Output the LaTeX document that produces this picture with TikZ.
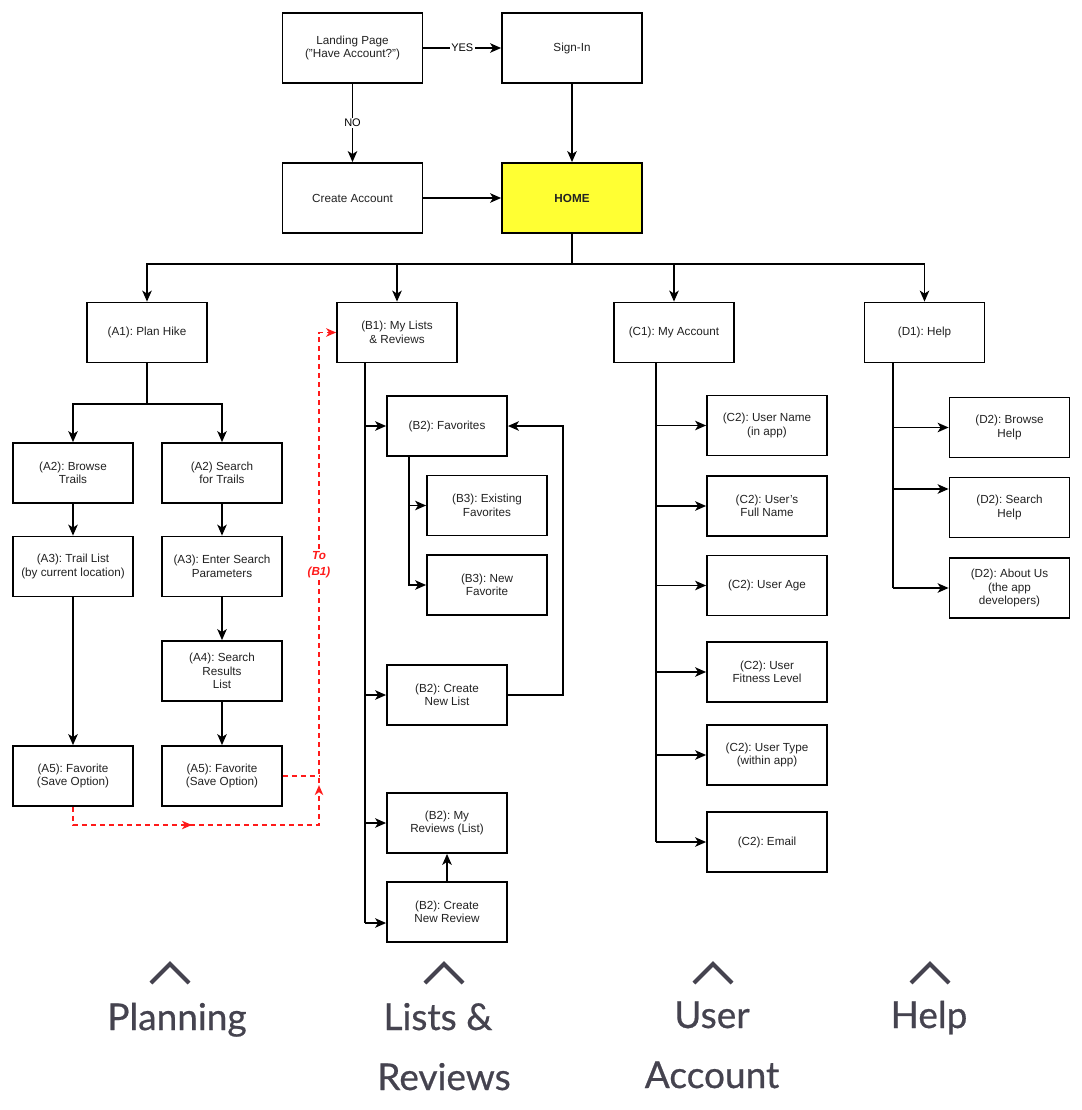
\documentclass[tikz,border=0pt]{standalone}
\usepackage{fontspec}
\setmainfont{Liberation Sans}
\newfontfamily\footfont[FakeBold=0.6]{Lato}
\usetikzlibrary{arrows.meta}
\usetikzlibrary{decorations.markings}
\pgfdeclarelayer{edgelayer}
\pgfdeclarelayer{nodelayer}
\pgfsetlayers{edgelayer,nodelayer,main}
\definecolor{homeyellow}{HTML}{FFFF33}
\definecolor{flowred}{HTML}{FF1A1A}
\definecolor{footgrey}{HTML}{45434F}
\definecolor{boxtext}{HTML}{222222}
\frenchspacing
\tikzstyle{none}=[inner sep=0pt]
\tikzstyle{screen}=[rectangle,draw=black,line width=1.8pt,fill=white,minimum width=120pt,minimum height=60pt,align=center,text=boxtext,font=\fontsize{11.7}{13.5}\selectfont]
\tikzstyle{wide screen}=[style=screen,minimum width=140pt,minimum height=70pt]
\tikzstyle{home}=[style=wide screen,fill=homeyellow,font=\fontsize{11.7}{13.5}\selectfont\bfseries]
\tikzstyle{link}=[-{Stealth[length=11pt,width=9.5pt,inset=3pt]},draw=black,line width=1.5pt]
\tikzstyle{branch}=[draw=black,line width=1.5pt]
\tikzstyle{choice}=[fill=white,inner sep=1.5pt,text=black,font=\fontsize{11}{12}\selectfont]
\tikzstyle{shortcut}=[draw=flowred,color=flowred,line width=1.3pt,dash pattern=on 5pt off 4pt]
\tikzstyle{shortcut note}=[fill=white,inner sep=2pt,align=center,text=flowred,font=\fontsize{11.7}{16}\selectfont\bfseries\itshape]
\tikzstyle{caret}=[draw=footgrey,line width=4pt]
\tikzstyle{section}=[anchor=base,text=footgrey,font=\footfont\fontsize{37}{44}\selectfont]

\begin{document}
\begin{tikzpicture}[x=1pt,y=-1pt]
	\useasboundingbox (0,0) rectangle (1081,1110);
	\begin{pgfonlayer}{nodelayer}
		\node [style=wide screen] (0) at (352.5, 48) {Landing Page\\(\symbol{34}Have Account?\symbol{34})};
		\node [style=wide screen] (1) at (572, 48) {Sign-In};
		\node [style=wide screen] (2) at (352.5, 198) {Create Account};
		\node [style=home] (3) at (572, 198) {HOME};
		\node [style=screen] (4) at (147, 332.5) {(A1): Plan Hike};
		\node [style=screen] (5) at (397, 332.5) {(B1): My Lists\\\& Reviews};
		\node [style=screen] (6) at (674, 332.5) {(C1): My Account};
		\node [style=screen] (7) at (924.5, 332.5) {(D1): Help};
		\node [style=screen] (8) at (73, 473) {(A2): Browse\\Trails};
		\node [style=screen] (9) at (222, 473) {(A2) Search\\for Trails};
		\node [style=screen] (10) at (73, 566.5) {(A3): Trail List\\(by current location)};
		\node [style=screen] (11) at (222, 566.5) {(A3): Enter Search\\Parameters};
		\node [style=screen] (12) at (222, 671) {(A4): Search\\Results\\List};
		\node [style=screen] (13) at (73, 776) {(A5): Favorite\\(Save Option)};
		\node [style=screen] (14) at (222, 776) {(A5): Favorite\\(Save Option)};
		\node [style=screen] (15) at (447, 426) {(B2): Favorites};
		\node [style=screen] (16) at (487, 505.5) {(B3): Existing\\Favorites};
		\node [style=screen] (17) at (487, 585) {(B3): New\\Favorite};
		\node [style=screen] (18) at (447, 695) {(B2): Create\\New List};
		\node [style=screen] (19) at (447, 823) {(B2): My\\Reviews (List)};
		\node [style=screen] (20) at (447, 912) {(B2): Create\\New Review};
		\node [style=screen] (21) at (767, 425.5) {(C2): User Name\\(in app)};
		\node [style=screen] (22) at (767, 506) {(C2): User's\\Full Name};
		\node [style=screen] (23) at (767, 585.5) {(C2): User Age};
		\node [style=screen] (24) at (767, 672) {(C2): User\\Fitness Level};
		\node [style=screen] (25) at (767, 755) {(C2): User Type\\(within app)};
		\node [style=screen] (26) at (767, 842) {(C2): Email};
		\node [style=screen] (27) at (1009.5, 427.5) {(D2): Browse\\Help};
		\node [style=screen] (28) at (1009.5, 507.5) {(D2): Search\\Help};
		\node [style=screen] (29) at (1009.5, 588) {(D2): About Us\\(the app\\developers)};
		\node [style=shortcut note] (30) at (319, 565) {To\\(B1)};
		\node [style=section] (31) at (177, 1030) {Planning};
		\node [style=section] (32) at (438, 1030) {Lists \&};
		\node [style=section] (33) at (444, 1090) {Reviews};
		\node [style=section] (34) at (712, 1028) {User};
		\node [style=section] (35) at (712, 1088) {Account};
		\node [style=section] (36) at (929, 1028) {Help};
	\end{pgfonlayer}
	\begin{pgfonlayer}{edgelayer}
		\coordinate (40) at (572, 264);
		\coordinate (41) at (147, 404);
		\coordinate (42) at (319, 825);
		\coordinate (43) at (319, 776);
		\coordinate (44) at (365, 362.5);
		\coordinate (45) at (365, 923);
		\coordinate (46) at (409, 456);
		\coordinate (47) at (563, 695);
		\coordinate (48) at (656, 362.5);
		\coordinate (49) at (893, 362.5);
		\coordinate (50) at (893, 489);
		% entry
		\draw [style=link] (0) to node [style=choice] {YES} (1);
		\draw [style=link] (0) to node [style=choice] {NO} (2);
		\draw [style=link] (1) to (3);
		\draw [style=link] (2) to (3);
		% home to sections
		\draw [style=branch] (3) to (40);
		\draw [style=link] (40) -| (4);
		\draw [style=link] (40) -| (5);
		\draw [style=link] (40) -| (6);
		\draw [style=link] (40) -| (7);
		% planning
		\draw [style=branch] (4) to (41);
		\draw [style=link] (41) -| (8);
		\draw [style=link] (41) -| (9);
		\draw [style=link] (8) to (10);
		\draw [style=link] (9) to (11);
		\draw [style=link] (11) to (12);
		\draw [style=link] (12) to (14);
		\draw [style=link] (10) to (13);
		\draw [style=shortcut,-{Stealth[length=10pt,width=8.5pt,inset=3pt]},postaction={decorate},decoration={markings,mark=at position 137pt with {\arrow{Stealth[length=10pt,width=8.5pt,inset=3pt]}},mark=at position 304pt with {\arrow{Stealth[length=10pt,width=8.5pt,inset=3pt]}}}] (13) |- (42) |- (5);
		\draw [style=shortcut] (14) to (43);
		% lists and reviews
		\draw [style=branch] (44) to (45);
		\draw [style=link] (44 |- 15) to (15);
		\draw [style=link] (44 |- 18) to (18);
		\draw [style=link] (44 |- 19) to (19);
		\draw [style=link] (45) to (45 -| 20.west);
		\draw [style=link] (46) |- (17);
		\draw [style=link] (46 |- 16) to (16);
		\draw [style=link] (18) -- (47) |- (15);
		\draw [style=link] (20) to (19);
		% user account
		\draw [style=branch] (48) to (48 |- 26);
		\draw [style=link] (48 |- 21) to (21);
		\draw [style=link] (48 |- 22) to (22);
		\draw [style=link] (48 |- 23) to (23);
		\draw [style=link] (48 |- 24) to (24);
		\draw [style=link] (48 |- 25) to (25);
		\draw [style=link] (48 |- 26) to (26);
		% help
		\draw [style=branch] (49) to (49 |- 29);
		\draw [style=link] (49 |- 27) to (27);
		\draw [style=link] (50) to (50 -| 28.west);
		\draw [style=link] (49 |- 29) to (29);
	\end{pgfonlayer}
	\draw [style=caret] (151, 983) -- (170, 964) -- (189, 983);
	\draw [style=caret] (425, 983) -- (444, 964) -- (463, 983);
	\draw [style=caret] (694, 983) -- (713, 964) -- (732, 983);
	\draw [style=caret] (911, 983) -- (930, 964) -- (949, 983);
\end{tikzpicture}
\end{document}
